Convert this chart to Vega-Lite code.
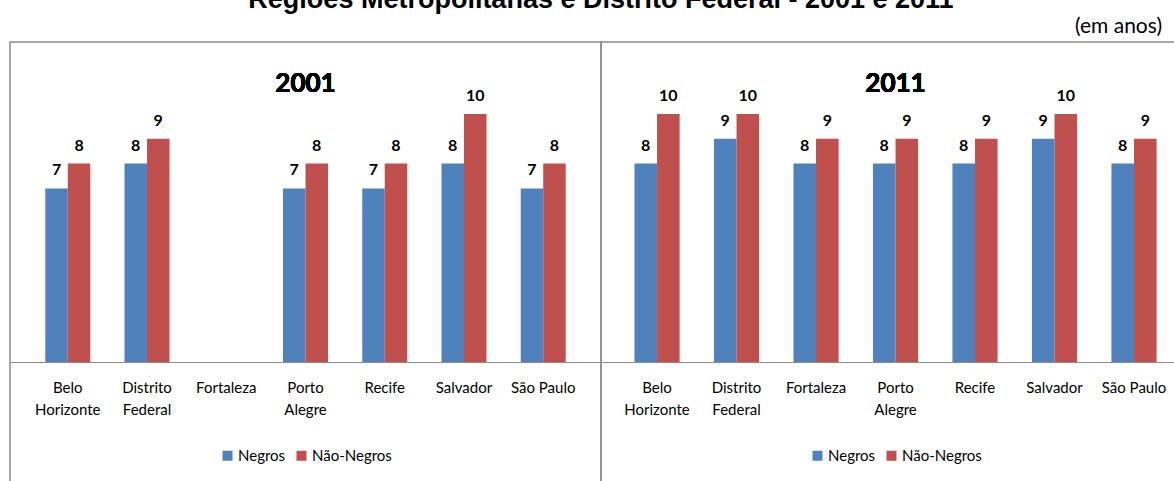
{
  "$schema": "https://vega.github.io/schema/vega-lite/v6.json",
  "background": "white",
  "padding": {"left": 9, "top": -14, "right": -1, "bottom": -3},
  "title": {"text": "Regiões Metropolitanas e Distrito Federal - 2001 e 2011", "anchor": "middle", "frame": "group", "dx": 591, "font": "Liberation Sans", "fontSize": 27, "fontWeight": "bold", "color": "#000000", "offset": 1},
  "data": {"values": [
    {"ano": "2001", "regiao": "Belo Horizonte", "grupo": "Negros", "anos": 7},
    {"ano": "2001", "regiao": "Belo Horizonte", "grupo": "Não-Negros", "anos": 8},
    {"ano": "2001", "regiao": "Distrito Federal", "grupo": "Negros", "anos": 8},
    {"ano": "2001", "regiao": "Distrito Federal", "grupo": "Não-Negros", "anos": 9},
    {"ano": "2001", "regiao": "Porto Alegre", "grupo": "Negros", "anos": 7},
    {"ano": "2001", "regiao": "Porto Alegre", "grupo": "Não-Negros", "anos": 8},
    {"ano": "2001", "regiao": "Recife", "grupo": "Negros", "anos": 7},
    {"ano": "2001", "regiao": "Recife", "grupo": "Não-Negros", "anos": 8},
    {"ano": "2001", "regiao": "Salvador", "grupo": "Negros", "anos": 8},
    {"ano": "2001", "regiao": "Salvador", "grupo": "Não-Negros", "anos": 10},
    {"ano": "2001", "regiao": "São Paulo", "grupo": "Negros", "anos": 7},
    {"ano": "2001", "regiao": "São Paulo", "grupo": "Não-Negros", "anos": 8},
    {"ano": "2011", "regiao": "Belo Horizonte", "grupo": "Negros", "anos": 8},
    {"ano": "2011", "regiao": "Belo Horizonte", "grupo": "Não-Negros", "anos": 10},
    {"ano": "2011", "regiao": "Distrito Federal", "grupo": "Negros", "anos": 9},
    {"ano": "2011", "regiao": "Distrito Federal", "grupo": "Não-Negros", "anos": 10},
    {"ano": "2011", "regiao": "Fortaleza", "grupo": "Negros", "anos": 8},
    {"ano": "2011", "regiao": "Fortaleza", "grupo": "Não-Negros", "anos": 9},
    {"ano": "2011", "regiao": "Porto Alegre", "grupo": "Negros", "anos": 8},
    {"ano": "2011", "regiao": "Porto Alegre", "grupo": "Não-Negros", "anos": 9},
    {"ano": "2011", "regiao": "Recife", "grupo": "Negros", "anos": 8},
    {"ano": "2011", "regiao": "Recife", "grupo": "Não-Negros", "anos": 9},
    {"ano": "2011", "regiao": "Salvador", "grupo": "Negros", "anos": 9},
    {"ano": "2011", "regiao": "Salvador", "grupo": "Não-Negros", "anos": 10},
    {"ano": "2011", "regiao": "São Paulo", "grupo": "Negros", "anos": 8},
    {"ano": "2011", "regiao": "São Paulo", "grupo": "Não-Negros", "anos": 9}
  ]},
  "spacing": 0,
  "bounds": "flush",
  "resolve": {"scale": {"x": "independent", "color": "independent", "xOffset": "independent"}, "legend": {"color": "independent"}},
  "hconcat": [
    {
      "width": 591,
      "height": 441,
      "transform": [{"filter": "datum.ano == '2001'"}],
      "layer": [
        {
          "mark": {"type": "bar"},
          "encoding": {
            "x": {"field": "regiao", "type": "nominal", "sort": null,
              "scale": {"domain": ["Belo Horizonte", "Distrito Federal", "Fortaleza", "Porto Alegre", "Recife", "Salvador", "São Paulo"], "paddingInner": 0.432, "paddingOuter": 0.445},
              "axis": {"title": null, "orient": "bottom", "offset": -121, "ticks": false, "domainColor": "#8c8c8c", "domainWidth": 1, "labelAngle": 0, "labelPadding": 18, "labelFontSize": 15, "labelColor": "#000000", "labelLineHeight": 22, "labelFont": "Lato",
                "labelExpr": "datum.label == 'Belo Horizonte' ? ['Belo', 'Horizonte'] : datum.label == 'Distrito Federal' ? ['Distrito', 'Federal'] : datum.label == 'Porto Alegre' ? ['Porto', 'Alegre'] : datum.label"}},
            "xOffset": {"field": "grupo", "type": "nominal", "scale": {"domain": ["Negros", "Não-Negros"], "paddingInner": 0, "paddingOuter": 0}},
            "y": {"field": "anos", "type": "quantitative", "scale": {"domain": [-4.879, 12.903], "nice": false, "zero": false}, "axis": null},
            "y2": {"datum": 0},
            "color": {"field": "grupo", "type": "nominal", "scale": {"domain": ["Negros", "Não-Negros"], "range": ["#4F81BD", "#C0504D"]},
              "legend": {"title": null, "orient": "none", "direction": "horizontal", "legendX": 210, "legendY": 406, "symbolType": "square", "symbolSize": 100, "symbolStrokeWidth": 0, "symbolOpacity": 1, "labelFontSize": 15, "labelFont": "Lato", "labelColor": "#000000", "columnPadding": 8, "labelOffset": 3}}
          }
        },
        {
          "mark": {"type": "text", "dy": -13, "baseline": "alphabetic", "font": "Lato", "fontSize": 16, "fontWeight": "bold", "color": "#000000"},
          "encoding": {
            "x": {"field": "regiao", "type": "nominal", "sort": null},
            "xOffset": {"field": "grupo", "type": "nominal"},
            "y": {"field": "anos", "type": "quantitative"},
            "text": {"field": "anos", "type": "quantitative"}
          }
        },
        {
          "mark": {"type": "text", "text": "2001", "baseline": "alphabetic", "font": "Lato", "fontSize": 26, "fontWeight": "bold", "color": "#000000"},
          "encoding": {
            "x": {"datum": "Porto Alegre"},
            "y": {"datum": 10.89}
          }
        }
      ]
    },
    {
      "width": 575,
      "height": 441,
      "title": {"text": "(em anos)", "anchor": "end", "frame": "group", "font": "Lato", "fontSize": 21, "fontWeight": "normal", "color": "#000000", "offset": 5, "dx": -14},
      "transform": [{"filter": "datum.ano == '2011'"}],
      "layer": [
        {
          "mark": {"type": "bar"},
          "encoding": {
            "x": {"field": "regiao", "type": "nominal", "sort": null,
              "scale": {"domain": ["Belo Horizonte", "Distrito Federal", "Fortaleza", "Porto Alegre", "Recife", "Salvador", "São Paulo"], "paddingInner": 0.432, "paddingOuter": 0.3325, "align": 0.633},
              "axis": {"title": null, "orient": "bottom", "offset": -121, "ticks": false, "domainColor": "#8c8c8c", "domainWidth": 1, "labelAngle": 0, "labelPadding": 18, "labelFontSize": 15, "labelColor": "#000000", "labelLineHeight": 22, "labelFont": "Lato",
                "labelExpr": "datum.label == 'Belo Horizonte' ? ['Belo', 'Horizonte'] : datum.label == 'Distrito Federal' ? ['Distrito', 'Federal'] : datum.label == 'Porto Alegre' ? ['Porto', 'Alegre'] : datum.label"}},
            "xOffset": {"field": "grupo", "type": "nominal", "scale": {"domain": ["Negros", "Não-Negros"], "paddingInner": 0, "paddingOuter": 0}},
            "y": {"field": "anos", "type": "quantitative", "scale": {"domain": [-4.879, 12.903], "nice": false, "zero": false}, "axis": null},
            "y2": {"datum": 0},
            "color": {"field": "grupo", "type": "nominal", "scale": {"domain": ["Negros", "Não-Negros"], "range": ["#4F81BD", "#C0504D"]},
              "legend": {"title": null, "orient": "none", "direction": "horizontal", "legendX": 209, "legendY": 406, "symbolType": "square", "symbolSize": 100, "symbolStrokeWidth": 0, "symbolOpacity": 1, "labelFontSize": 15, "labelFont": "Lato", "labelColor": "#000000", "columnPadding": 8, "labelOffset": 3}}
          }
        },
        {
          "mark": {"type": "text", "dy": -13, "baseline": "alphabetic", "font": "Lato", "fontSize": 16, "fontWeight": "bold", "color": "#000000"},
          "encoding": {
            "x": {"field": "regiao", "type": "nominal", "sort": null},
            "xOffset": {"field": "grupo", "type": "nominal"},
            "y": {"field": "anos", "type": "quantitative"},
            "text": {"field": "anos", "type": "quantitative"}
          }
        },
        {
          "mark": {"type": "text", "text": "2011", "baseline": "alphabetic", "font": "Lato", "fontSize": 26, "fontWeight": "bold", "color": "#000000"},
          "encoding": {
            "x": {"datum": "Porto Alegre"},
            "y": {"datum": 10.89}
          }
        }
      ]
    }
  ],
  "config": {
    "view": {"stroke": "#8c8c8c", "strokeWidth": 1.5},
    "font": "Lato"
  }
}
